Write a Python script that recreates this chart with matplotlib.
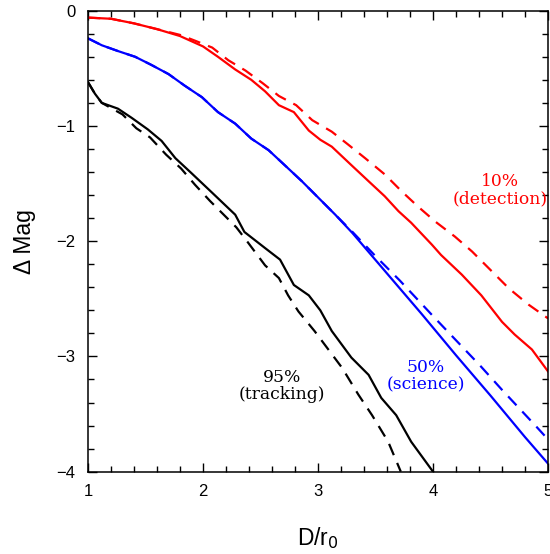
import numpy as np
import matplotlib.pyplot as plt
from matplotlib.ticker import MultipleLocator

# 10% (detection) curves
red_solid_x = [1.0, 1.2, 1.4, 1.6, 1.8, 2.0, 2.13, 2.28, 2.42, 2.54, 2.66, 2.79, 2.92, 3.02, 3.12,
               3.29, 3.44, 3.58, 3.70, 3.81, 3.99, 4.07, 4.25, 4.42, 4.60, 4.71, 4.86, 5.0]
red_solid_y = [-0.06, -0.07, -0.11, -0.16, -0.22, -0.31, -0.40, -0.51, -0.60, -0.70, -0.82, -0.88, -1.04, -1.12, -1.18,
               -1.34, -1.48, -1.61, -1.74, -1.84, -2.03, -2.12, -2.29, -2.47, -2.70, -2.81, -2.94, -3.13]
red_dash_x = [1.0, 1.2, 1.4, 1.6, 1.8, 1.93, 2.08, 2.22, 2.37, 2.52, 2.66, 2.81, 2.95, 3.12, 3.26,
              3.41, 3.58, 3.73, 3.87, 4.02, 4.19, 4.34, 4.48, 4.66, 4.83, 5.0]
red_dash_y = [-0.06, -0.07, -0.11, -0.16, -0.21, -0.26, -0.32, -0.43, -0.52, -0.63, -0.74, -0.82, -0.95, -1.05, -1.16,
              -1.28, -1.42, -1.57, -1.70, -1.83, -1.96, -2.09, -2.23, -2.41, -2.55, -2.67]

# 50% (science) curves
blue_solid_x = [1.0, 1.12, 1.26, 1.41, 1.55, 1.70, 1.84, 1.99, 2.13, 2.28, 2.42, 2.57, 2.71, 2.86, 3.0,
                3.15, 3.3, 3.6, 3.9, 4.2, 4.5, 4.8, 5.0]
blue_solid_y = [-0.24, -0.30, -0.35, -0.40, -0.47, -0.55, -0.65, -0.75, -0.88, -0.98, -1.11, -1.21, -1.34, -1.48, -1.62,
                -1.77, -1.93, -2.28, -2.63, -2.99, -3.34, -3.70, -3.93]
blue_dash_x = [1.0, 1.12, 1.26, 1.41, 1.55, 1.70, 1.84, 1.99, 2.13, 2.28, 2.42, 2.57, 2.71, 2.86, 3.0,
               3.15, 3.3, 3.5, 3.71, 4.0, 4.2, 4.41, 4.6, 4.89, 5.0]
blue_dash_y = [-0.24, -0.30, -0.35, -0.40, -0.47, -0.55, -0.65, -0.75, -0.88, -0.98, -1.11, -1.21, -1.34, -1.48, -1.62,
               -1.77, -1.92, -2.13, -2.34, -2.65, -2.86, -3.08, -3.29, -3.60, -3.72]

# 95% (tracking) curves
black_solid_x = [1.0, 1.06, 1.12, 1.26, 1.38, 1.52, 1.64, 1.76, 1.90, 2.08, 2.28, 2.36, 2.54, 2.67, 2.79,
                 2.92, 3.02, 3.12, 3.29, 3.44, 3.55, 3.68, 3.81, 4.0]
black_solid_y = [-0.62, -0.72, -0.80, -0.85, -0.93, -1.03, -1.13, -1.28, -1.41, -1.58, -1.77, -1.92, -2.06, -2.16, -2.38,
                 -2.47, -2.60, -2.78, -3.01, -3.16, -3.36, -3.51, -3.74, -4.0]
black_dash_x = [1.0, 1.06, 1.12, 1.30, 1.42, 1.54, 1.68, 1.81, 1.93, 2.06, 2.18, 2.29, 2.39, 2.54, 2.66,
                2.74, 2.83, 2.97, 3.09, 3.21, 3.35, 3.47, 3.61, 3.72]
black_dash_y = [-0.62, -0.72, -0.80, -0.90, -1.02, -1.10, -1.25, -1.37, -1.51, -1.65, -1.77, -1.88, -2.01, -2.21, -2.32,
                -2.47, -2.61, -2.78, -2.94, -3.10, -3.33, -3.51, -3.74, -4.0]

# annotation labels
labels = ['10%\n(detection)', '50%\n(science)', '95%\n(tracking)']
label_x = [4.58, 3.94, 2.69]
label_y = [-1.56, -3.17, -3.26]
colors = ['red', 'blue', 'black']

plt.rcParams['font.family'] = ['Liberation Sans', 'DejaVu Sans']

fig = plt.figure(figsize=(5.5, 5.54), dpi=100)
ax = fig.add_axes([0.16, 0.1486, 0.8364, 0.8321])

dash = (5.5, 3.8)
lw = 1.6
ax.plot(red_solid_x, red_solid_y, color='red', lw=lw)
ax.plot(red_dash_x, red_dash_y, color='red', lw=lw, dashes=dash)
ax.plot(blue_solid_x, blue_solid_y, color='blue', lw=lw)
ax.plot(blue_dash_x, blue_dash_y, color='blue', lw=lw, dashes=dash)
ax.plot(black_solid_x, black_solid_y, color='black', lw=lw)
ax.plot(black_dash_x, black_dash_y, color='black', lw=lw, dashes=dash)

for txt, x, y, c in zip(labels, label_x, label_y, colors):
    ax.text(x, y, txt, color=c, ha='center', va='center', family='DejaVu Serif',
            fontsize=12.3, linespacing=1.0)

ax.set_xlim(1, 5)
ax.set_ylim(-4, 0)
ax.xaxis.set_major_locator(MultipleLocator(1))
ax.xaxis.set_minor_locator(MultipleLocator(0.2))
ax.yaxis.set_major_locator(MultipleLocator(1))
ax.yaxis.set_minor_locator(MultipleLocator(0.2))
ax.tick_params(which='both', direction='in', top=True, right=True, width=1.0)
ax.tick_params(which='major', length=6.5, labelsize=12, pad=9)
ax.tick_params(which='minor', length=4.3)
ax.set_yticks([0, -1, -2, -3, -4])
ax.set_yticklabels(['0', '\u22121', '\u22122', '\u22123', '\u22124'])
for s in ax.spines.values():
    s.set_linewidth(1.1)

# axis titles
ax.set_xlabel('D/r$_0$', fontsize=16.5, labelpad=19)
ax.set_ylabel('\u0394 Mag', fontsize=16.5, labelpad=15)

plt.savefig('out.png', dpi=100)
